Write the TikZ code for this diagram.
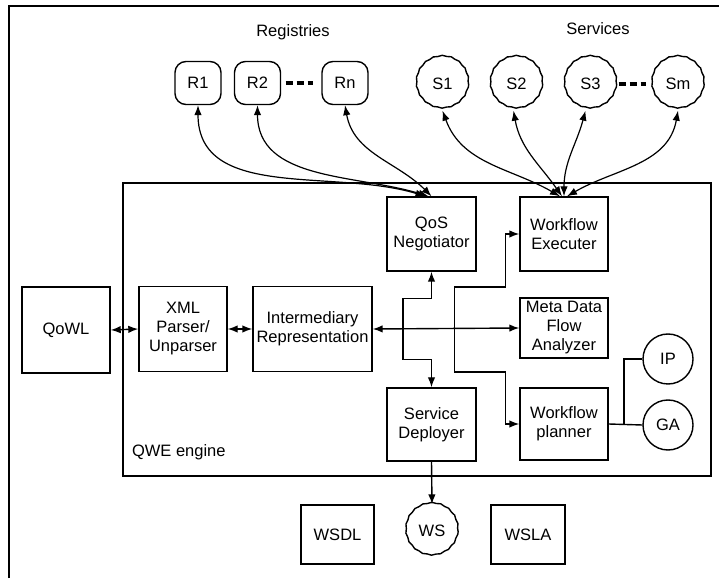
\documentclass[tikz,border=0pt]{standalone}
\usepackage{fontspec}
\setmainfont{Liberation Sans}
\usetikzlibrary{arrows.meta}
\usetikzlibrary{decorations.pathmorphing}
\tikzset{box/.style = {draw, rectangle, align=center, inner sep=1pt},
  wobbly/.style = {draw, decorate, decoration={snake, amplitude=0.4pt, segment length=9pt}},
  reg/.style = {draw, rounded corners=11pt, minimum width=46, minimum height=43, inner sep=0},
  svc/.style = {wobbly, circle, minimum size=52, inner sep=0},
  algo/.style = {draw, circle, minimum size=50, inner sep=0},
  dots/.style = {line width=3.2pt, dash pattern=on 7pt off 4pt}}

\begin{document}
\begin{tikzpicture}[x=1pt, y=1pt, line width=1.4pt, font=\fontsize{16.5}{19}\selectfont, >={Latex[length=10pt, width=7.5pt]}]
    \useasboundingbox (0,0) rectangle (719,578);
    \draw (9,0) -- (9,572) -- (719,572);
    \draw (123,102) rectangle (711,395);
    \node [anchor=west] (engine) at (128,126) {QWE engine};

    % registries and services
    \node (reglabel) at (293,546) {Registries};
    \node (svclabel) at (598,549) {Services};
    \node [reg] (R1) at (198,495) {R1};
    \node [reg] (R2) at (257.5,495) {R2};
    \node [reg] (Rn) at (345,495) {Rn};
    \node [svc] (S1) at (442.5,494) {S1};
    \node [svc] (S2) at (516.5,494) {S2};
    \node [svc] (S3) at (590.5,494) {S3};
    \node [svc] (Sm) at (678,494) {Sm};
    \draw [dots, shorten <=4.5, shorten >=8] (R2.east) -- (Rn.west);
    \draw [dots, shorten <=1.5, shorten >=5] (S3.east) -- (Sm.west);

    % engine blocks
    \node [box, minimum width=88, minimum height=86] (qowl) at (66,248) {QoWL};
    \node [box, minimum width=88, minimum height=85] (xml) at (183,249) {XML\\Parser/\\Unparser};
    \node [box, minimum width=119, minimum height=85] (interm) at (312.5,249) {Intermediary\\Representation};
    \node [box, minimum width=89, minimum height=74] (qos) at (431.5,344) {QoS\\Negotiator};
    \node [box, minimum width=88, minimum height=74] (exec) at (564,344) {Workflow\\Executer};
    \node [box, minimum width=88, minimum height=60] (meta) at (564,250) {Meta Data\\Flow\\Analyzer};
    \node [box, minimum width=89, minimum height=73] (deploy) at (431.5,153.5) {Service\\Deployer};
    \node [box, minimum width=88, minimum height=72] (planner) at (564,154) {Workflow\\planner};
    \node [algo] (IP) at (668,219) {IP};
    \node [algo] (GA) at (668,153) {GA};

    % outside the engine
    \node [svc] (WS) at (432,47) {WS};
    \node [box, minimum width=73, minimum height=59] (wsdl) at (337.5,43.5) {WSDL};
    \node [box, minimum width=74, minimum height=59] (wsla) at (528,43.5) {WSLA};

    \draw [<->] (qowl.east) -- (xml.west);
    \draw [<->] (xml.east) -- (interm.west);
    \draw [<->] (interm.east) -- (meta.west);
    \draw [<->] (qos.south) -- ++(0,-27) -- ++(-28.5,0) -- ++(0,-61) -- ++(28.5,0) -- (deploy.north);
    \draw [<->] (exec.west) -- ++(-14,0) -- ++(0,-53) -- ++(-51,0) -- ++(0,-85) -- ++(51,0) |- (planner.west);
    \coordinate (fork) at (624,154);
    \draw (planner.east) -- (GA.west);
    \draw (fork) |- (IP.west);
    \draw [->] (deploy.south) -- (WS.north);

    % negotiation and execution links
    \draw [<->, line width=1.2pt] (R1.south) to [out=-90, in=163] ([xshift=-6]qos.north);
    \draw [<->, line width=1.2pt] (R2.south) to [out=-90, in=163] ([xshift=-3]qos.north);
    \draw [<->, line width=1.2pt] (Rn.south) to [out=-80, in=135] (qos.north);
    \draw [<->, line width=1.2pt] (S1.south) to [out=-70, in=150] ([xshift=-4]exec.north);
    \draw [<->, line width=1.2pt] ([xshift=-3]S2.south) to [out=-80, in=125] ([xshift=-2]exec.north);
    \draw [<->, line width=1.2pt] ([xshift=-5]S3.south) to [out=-105, in=90] (exec.north);
    \draw [<->, line width=1.2pt] (Sm.south) to [out=-100, in=30] ([xshift=3]exec.north);
  \end{tikzpicture}
\end{document}
